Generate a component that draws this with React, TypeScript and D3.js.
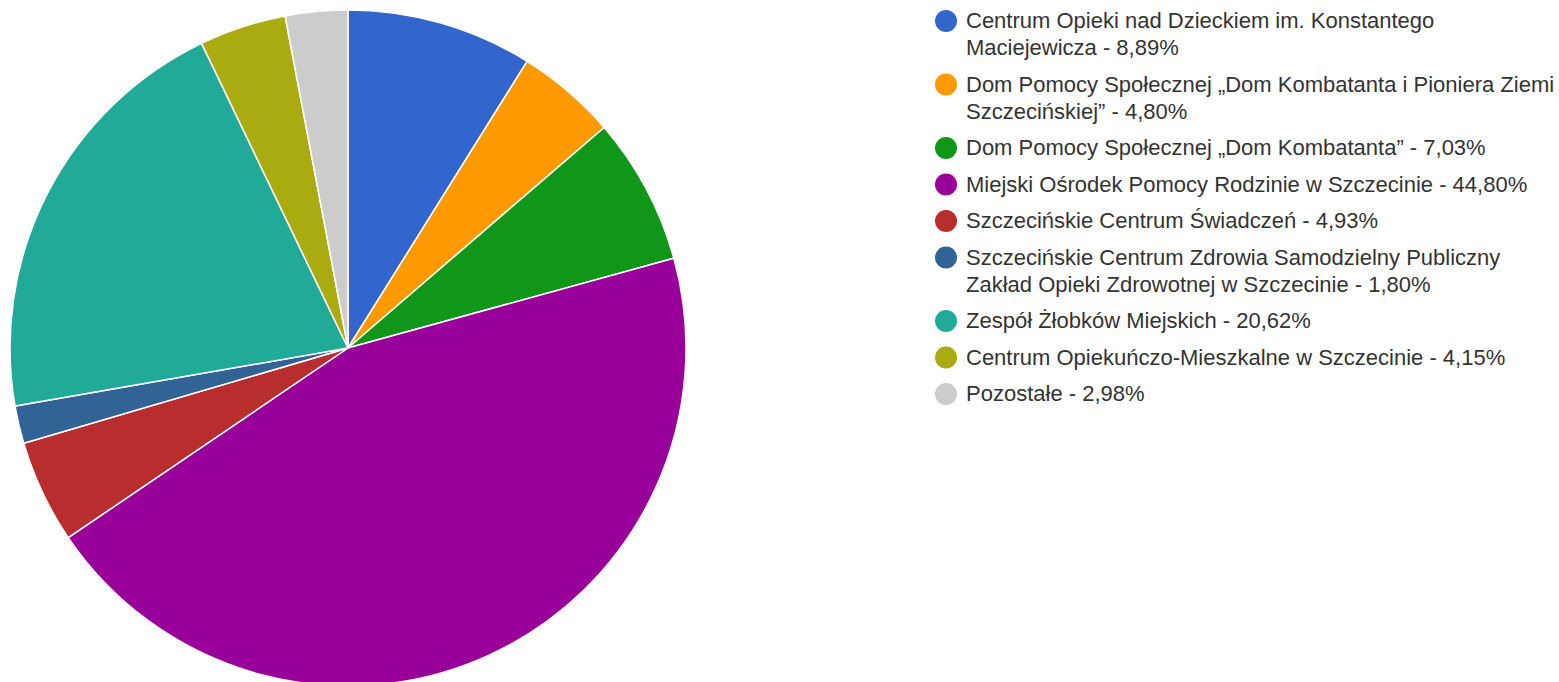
import React from "react";
import * as d3 from "d3";

const categories: string[][] = [
  ["Centrum Opieki nad Dzieckiem im. Konstantego", "Maciejewicza"],
  ["Dom Pomocy Społecznej „Dom Kombatanta i Pioniera Ziemi", "Szczecińskiej\u201D"],
  ["Dom Pomocy Społecznej „Dom Kombatanta\u201D"],
  ["Miejski Ośrodek Pomocy Rodzinie w Szczecinie"],
  ["Szczecińskie Centrum Świadczeń"],
  ["Szczecińskie Centrum Zdrowia Samodzielny Publiczny", "Zakład Opieki Zdrowotnej w Szczecinie"],
  ["Zespół Żłobków Miejskich"],
  ["Centrum Opiekuńczo-Mieszkalne w Szczecinie"],
  ["Pozostałe"],
];
const values: number[] = [8.89, 4.8, 7.03, 44.8, 4.93, 1.8, 20.62, 4.15, 2.98];
const colors: string[] = [
  "#3366cc", "#ff9900", "#109618", "#990099", "#b82e2e",
  "#316395", "#22aa99", "#aaaa11", "#cccccc",
];

const W = 1559;
const H = 682;
const cx = 348;
const cy = 348;
const R = 338;

export default function App() {
  const pie = d3.pie<number>().sort(null).value((d) => d);
  const arcs = pie(values);
  const arc = d3.arc<d3.PieArcDatum<number>>().innerRadius(0).outerRadius(R);
  const fmt = (v: number) => v.toFixed(2).replace(".", ",") + "%";

  const lineH = 27;
  const gap = 36.5;
  let y = 28;
  const legendItems = categories.map((lines, i) => {
    const startY = y;
    y += (lines.length - 1) * lineH + gap;
    return { lines, startY, i };
  });

  return (
    <div style={{ position: "absolute", left: 0, top: 0, width: W, height: H, overflow: "hidden", background: "#fff" }}>
      <svg width={W} height={H} style={{ display: "block" }}>
        <g transform={`translate(${cx},${cy})`}>
          {arcs.map((a, i) => (
            <path key={i} d={arc(a) || ""} fill={colors[i]} stroke="#ffffff" strokeWidth={1.5} />
          ))}
        </g>
        <g fontFamily="'Liberation Sans', Arial, sans-serif" fontSize={22} fill="#333333">
          {legendItems.map(({ lines, startY, i }) => (
            <g key={i}>
              <circle cx={946} cy={startY - 7} r={11} fill={colors[i]} />
              {lines.map((ln, j) => (
                <text key={j} x={966} y={startY + j * lineH}>
                  {j === lines.length - 1 ? `${ln} - ${fmt(values[i])}` : ln}
                </text>
              ))}
            </g>
          ))}
        </g>
      </svg>
    </div>
  );
}
